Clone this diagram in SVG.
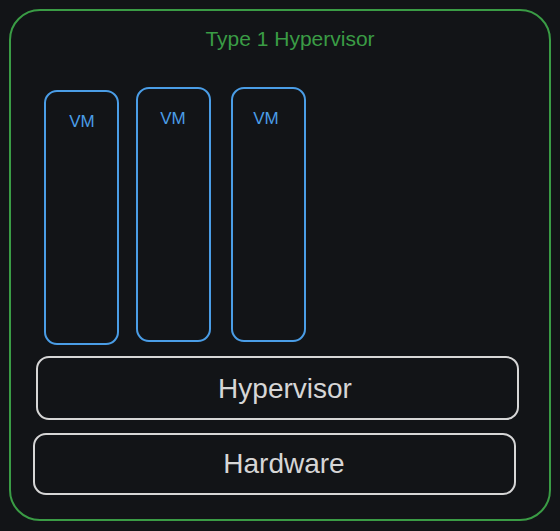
<svg xmlns="http://www.w3.org/2000/svg" width="560" height="531" viewBox="0 0 560 531">
<style>
.bg{fill:#121417}
.outer{fill:none;stroke:#3a9c45;stroke-width:2}
.vm{fill:none;stroke:#4a9de6;stroke-width:2}
.layer{fill:none;stroke:#d6d6d6;stroke-width:2}
text{font-family:"Liberation Sans",Arial,sans-serif;text-anchor:middle}
.title{fill:#3a9c45;font-size:21px}
.vmt{fill:#4a9de6;font-size:17px}
.lt{fill:#d6d6d6;font-size:28px}
</style>
<rect class="bg" x="0" y="0" width="560" height="531"/>
<g id="outer">
<rect class="outer" x="10" y="10" width="540" height="510" rx="30"/>
<text class="title" x="290" y="46">Type 1 Hypervisor</text>
</g>
<g id="vm1">
<rect class="vm" x="45" y="91" width="73" height="253" rx="12"/>
<text class="vmt" x="82" y="127">VM</text>
</g>
<g id="vm2">
<rect class="vm" x="137" y="88" width="73" height="253" rx="12"/>
<text class="vmt" x="173" y="124">VM</text>
</g>
<g id="vm3">
<rect class="vm" x="232" y="88" width="73" height="253" rx="12"/>
<text class="vmt" x="266" y="124">VM</text>
</g>
<g id="hypervisor">
<rect class="layer" x="37" y="357" width="481" height="62" rx="12"/>
<text class="lt" x="285" y="398">Hypervisor</text>
</g>
<g id="hardware">
<rect class="layer" x="34" y="434" width="481" height="60" rx="12"/>
<text class="lt" x="284" y="473">Hardware</text>
</g>
<g id="connectors"></g>
</svg>
